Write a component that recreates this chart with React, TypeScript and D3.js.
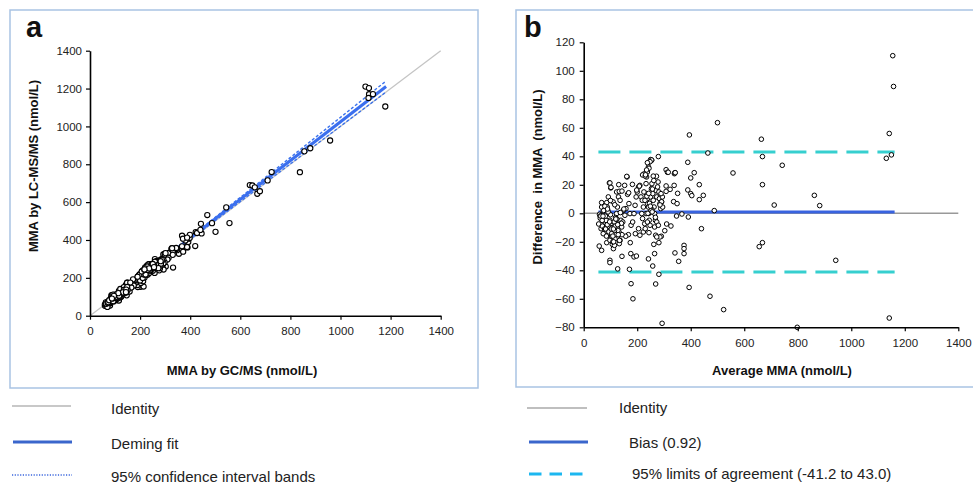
import { useRef, useEffect } from 'react'
import * as d3 from 'd3'

// Bland-Altman values (average, difference LC-MS/MS minus GC/MS)
const avgMMA = [
  1155, 1158, 1142, 1150, 1131, 1142, 500, 395, 464, 664, 668, 668, 742, 558, 712, 862, 882, 488, 656, 668,
  942, 440, 394, 472, 523, 798, 293, 281, 269, 177, 184, 171, 127, 143, 98, 98, 67, 86, 174, 176,
  188, 197, 242, 258, 265, 269, 281, 341, 355, 375, 375, 375, 391, 347, 367, 400, 404, 389, 389, 413,
  400, 432, 432, 447, 279, 308, 313, 308, 308, 323, 338, 339, 341, 336, 349, 351, 310, 326, 303, 290,
  285, 273,
  56, 59, 61, 67, 67, 73, 76, 78, 80, 83, 86, 88, 92, 96, 101, 95, 98, 102, 105, 107,
  107, 111, 113, 117, 121, 123, 126, 130, 123, 133, 136, 139, 142, 132, 126, 133, 115, 98, 90, 86,
  71, 65, 73, 146, 148, 154, 158, 162, 153, 164, 169, 173, 177, 183, 188, 192, 196, 200, 205, 210,
  214, 219, 223, 193, 210, 223, 228, 205, 167, 157, 143, 98, 102, 131, 143, 161, 182, 168, 208, 198,
  233, 235, 238, 242, 245, 250, 254, 235, 238, 239, 242, 243, 245, 248, 244, 250, 253, 255, 258, 260,
  263, 265, 268, 265, 271, 273, 276, 278, 281, 283, 285, 288, 291, 294, 289, 295, 272, 238, 230, 233,
  248, 255, 229, 225, 217, 220, 268, 273, 279, 262, 254, 248, 238, 244, 235, 225, 220, 230, 260, 316,
  342, 291, 285, 62, 70, 78, 84, 90, 94, 104, 109, 114, 119, 124, 128, 137, 150, 110, 117, 93, 81, 106, 121,
  58, 64, 69, 75, 82, 88, 94, 100, 105, 112, 118, 124, 129, 136, 141, 72, 79, 85, 91, 97,
  103, 109, 115, 120, 127, 134, 111, 116, 100, 89, 240, 246, 252, 257, 236, 249, 262, 243, 231, 256,
]
const diffMMA = [
  110.6, 89, 56, 41, 38.6, -73.5, 63.6, 55, 42.3, 52, 39.8, 20.1, 33.7, 28.3, 5.8, 12.6, 5.4, 1.9, -23.4, -20.6,
  -33, -10.8, -52, -58.2, -67.6, -80, -77.2, -42.8, -49.6, -49.4, -60, -39.3, -39, -30.2, -33, -34.6, -26, -20.6, -20.6, -28.3,
  -30.6, -30, -32, -37, -28.3, -15.4, -20.6, -27.8, -33.7, -28.3, -22.5, -24.8, -2.6, -1.9, -0.5, 13.8, 12.4, 16.4, 35.8, 28.5,
  24.8, 20.1, 9.6, 12.6, 39.8, 30.6, 28.8, 19.2, 15.4, 16.8, 19.6, 27.8, 28.5, 8.2, 6.8, 14, -7.5, -8.9, -12.2, -16.1,
  -16.6, -16.6,
  -7.5, -0.7, -1.9, 4.4, 7.5, 1.4, -3, -6.1, -9.6, -13.1, 7.5, 4.4, 11.5, 21.3, 17.8, -0.2, -4.9, -8.4, -14.3, -18.2,
  -21.8, -24.8, -17.8, -11.9, -7.3, -0.2, 4.4, 11.5, 15, 15.4, 9.1, -4.9, -9.6, -13.1, -17.8, -21.3, -22.5, -18.9, -15.4, -9.6,
  -4.9, -10.8, -14.3, -6.1, 2.1, -1.4, 3.3, 25.5, 19.6, 13.3, 6.8, -0.2, -8.4, -6.1, -0.2, 5.6, 11.5, 15, 18.5, 19.6,
  11.5, 9.1, 4.4, -14.3, -15.4, -13.1, -7.3, -10.8, -15, -16.1, -15, 21.3, 18.2, 20.1, 15.6, 25.9, 20.3, 14.4, 19.1, 16.3,
  20.8, 25.5, 29, 32.5, 36, 37.7, 37.2, 13.8, 10.3, 6.8, 4.4, -0.2, -4.9, -8.4, -13.6, 11.5, 17.3, 20.8, 13.8, 9.1,
  4.4, -0.2, -4.9, -9.6, 15.9, 11.5, 18.5, 22, 15, 10.3, 6.8, 3.3, 8, 11.5, 13.8, 4.4, 26, -6.1, -10.8, -0.2,
  0.7, 2.6, 9.1, 15, -0.2, -3.7, -2.8, -6.1, -8.4, -21.8, 37.4, 36.2, 35.5, 31.6, 30.4, 27.6, 26.9, 26.1, 26.1, 28.8,
  28.5, 8.1, 5.9, -3.5, -9, -11, -5, 2, -12, -16, -20, -6, -3, -10, -12, 0.5, 3, 8, -18, -9, -2, -10, -4, -23,
  -2, -5, 2, -11, -8, -13, -1, -14, -20, -9, -4, -15, -19, -7, -2, 5, -16, 1, -6, -11,
  -16, -12, -4, -8, -19, -11, 6, 9, 3, 0, 7, 2, 17, 12, 5, 23, 14, 27, 1, 19,
]

// Deming fit and 95% confidence bands
const fitX = [55, 1182]
const fitY = [56, 1211]
const bandX = [55, 250, 500, 800, 1000, 1182]
const bandUpper = [62, 259, 520, 836, 1048, 1240]
const bandLower = [49, 252, 503, 802, 1001, 1182]

const bias = 0.92
const loaLower = -41.2
const loaUpper = 43.0
const agreeRange = [55, 1162]

const ticksA = [0, 200, 400, 600, 800, 1000, 1200, 1400]
const ticksBx = [0, 200, 400, 600, 800, 1000, 1200, 1400]
const ticksBy = [-80, -60, -40, -20, 0, 20, 40, 60, 80, 100, 120]

const legendA = ['Identity', 'Deming fit', '95% confidence interval bands']
const legendB = ['Identity', 'Bias (0.92)', '95% limits of agreement (-41.2 to 43.0)']

const FONT = 'Liberation Sans, Arial, Helvetica, sans-serif'

function App() {
  const ref = useRef<SVGSVGElement>(null)

  useEffect(() => {
    const svg = d3.select(ref.current)
    svg.selectAll('*').remove()

    const pts = avgMMA.map((a, i) => ({ avg: a, diff: diffMMA[i], gc: a - diffMMA[i] / 2, lc: a + diffMMA[i] / 2 }))
    const fmt = d3.format('d')

    // panel frames
    svg.append('rect').attr('x', 10).attr('y', 10).attr('width', 468).attr('height', 378)
      .attr('fill', 'none').attr('stroke', '#a9c3e3').attr('stroke-width', 1.5)
    svg.append('rect').attr('x', 516).attr('y', 10).attr('width', 470).attr('height', 377)
      .attr('fill', 'none').attr('stroke', '#a9c3e3').attr('stroke-width', 1.5)

    svg.append('text').attr('x', 26).attr('y', 37).text('a')
      .style('font', `bold 29px ${FONT}`).attr('fill', '#111')
    svg.append('text').attr('x', 524).attr('y', 37).text('b')
      .style('font', `bold 29px ${FONT}`).attr('fill', '#111')

    // ---------- panel a ----------
    const xa = d3.scaleLinear().domain([0, 1400]).range([90, 440.7])
    const ya = d3.scaleLinear().domain([0, 1400]).range([315.7, 50.7])
    const ga = svg.append('g')

    ga.append('line').attr('x1', xa(0)).attr('y1', ya(0)).attr('x2', xa(1400)).attr('y2', ya(1400))
      .attr('stroke', '#c4c4c4').attr('stroke-width', 1.3)

    const bandLine = d3.line<number>().x((d, i) => xa(bandX[i])).y(d => ya(d)).curve(d3.curveMonotoneX)
    ;[bandUpper, bandLower].forEach(b => {
      ga.append('path').attr('d', bandLine(b)).attr('fill', 'none')
        .attr('stroke', '#3b73ee').attr('stroke-width', 1.4).attr('stroke-dasharray', '3,2')
    })
    ga.append('line').attr('x1', xa(fitX[0])).attr('y1', ya(fitY[0])).attr('x2', xa(fitX[1])).attr('y2', ya(fitY[1]))
      .attr('stroke', '#3b6fee').attr('stroke-width', 3)

    ga.selectAll('circle.pa').data(pts).enter().append('circle')
      .attr('cx', d => xa(d.gc)).attr('cy', d => ya(d.lc)).attr('r', 2.6)
      .attr('fill', '#fff').attr('stroke', '#000').attr('stroke-width', 1.1)

    const axAy = ga.append('g').attr('transform', 'translate(90,0)')
      .call(d3.axisLeft(ya).tickValues(ticksA).tickFormat(fmt).tickSize(4).tickPadding(4).tickSizeOuter(0))
    const axAx = ga.append('g').attr('transform', 'translate(0,315.7)')
      .call(d3.axisBottom(xa).tickValues(ticksA).tickFormat(fmt).tickSize(4).tickPadding(7).tickSizeOuter(0))
    ;[axAy, axAx].forEach(ax => {
      ax.selectAll('path').attr('stroke', '#000').attr('stroke-width', 1.6)
      ax.selectAll('line').attr('stroke', '#000').attr('stroke-width', 1.2)
      ax.selectAll('text').style('font', `11.5px ${FONT}`).attr('fill', '#222')
    })

    ga.append('text').attr('x', 242).attr('y', 375).attr('text-anchor', 'middle')
      .text('MMA by GC/MS (nmol/L)').style('font', `bold 13px ${FONT}`).attr('fill', '#111')
    ga.append('text').attr('transform', 'translate(38,166) rotate(-90)').attr('text-anchor', 'middle')
      .text('MMA by LC-MS/MS (nmol/L)').style('font', `bold 13px ${FONT}`).attr('fill', '#111')

    // ---------- panel b ----------
    const xb = d3.scaleLinear().domain([0, 1400]).range([583.7, 958.3])
    const yb = d3.scaleLinear().domain([-80, 120]).range([327.3, 42.3])
    const gb = svg.append('g')

    gb.append('line').attr('x1', xb(0)).attr('y1', yb(0)).attr('x2', xb(1400)).attr('y2', yb(0))
      .attr('stroke', '#999').attr('stroke-width', 1.4)
    gb.append('line').attr('x1', xb(agreeRange[0])).attr('y1', yb(bias)).attr('x2', xb(agreeRange[1])).attr('y2', yb(bias))
      .attr('stroke', '#3863e0').attr('stroke-width', 3)
    ;[loaUpper, loaLower].forEach(v => {
      gb.append('line').attr('x1', xb(agreeRange[0])).attr('y1', yb(v)).attr('x2', xb(agreeRange[1])).attr('y2', yb(v))
        .attr('stroke', '#36cfcf').attr('stroke-width', 3).attr('stroke-dasharray', '22,9')
    })

    gb.selectAll('circle.pb').data(pts).enter().append('circle')
      .attr('cx', d => xb(d.avg)).attr('cy', d => yb(d.diff)).attr('r', 2.3)
      .attr('fill', '#fff').attr('stroke', '#000').attr('stroke-width', 1)

    const axBy = gb.append('g').attr('transform', 'translate(583.7,0)')
      .call(d3.axisLeft(yb).tickValues(ticksBy).tickFormat(fmt).tickSize(4).tickPadding(5).tickSizeOuter(0))
    const axBx = gb.append('g').attr('transform', 'translate(0,327.3)')
      .call(d3.axisBottom(xb).tickValues(ticksBx).tickFormat(fmt).tickSize(4).tickPadding(8).tickSizeOuter(0))
    ;[axBy, axBx].forEach(ax => {
      ax.selectAll('path').attr('stroke', '#000').attr('stroke-width', 1.6)
      ax.selectAll('line').attr('stroke', '#000').attr('stroke-width', 1.2)
      ax.selectAll('text').style('font', `11.5px ${FONT}`).attr('fill', '#222')
    })

    gb.append('text').attr('x', 782).attr('y', 375).attr('text-anchor', 'middle')
      .text('Average MMA (nmol/L)').style('font', `bold 13px ${FONT}`).attr('fill', '#111')
    gb.append('text').attr('transform', 'translate(542,177) rotate(-90)').attr('text-anchor', 'middle')
      .style('white-space', 'pre')
      .text('Difference  in MMA  (nmol/L)').style('font', `bold 13px ${FONT}`).attr('fill', '#111')

    // ---------- legends ----------
    const lg = svg.append('g')
    const legY = [406, 442, 475]
    lg.append('line').attr('x1', 12).attr('x2', 71).attr('y1', legY[0]).attr('y2', legY[0])
      .attr('stroke', '#c8c8c8').attr('stroke-width', 2)
    lg.append('line').attr('x1', 13).attr('x2', 72).attr('y1', legY[1]).attr('y2', legY[1])
      .attr('stroke', '#3a66cc').attr('stroke-width', 3)
    lg.append('line').attr('x1', 12).attr('x2', 72).attr('y1', legY[2]).attr('y2', legY[2])
      .attr('stroke', '#3a66dd').attr('stroke-width', 1.5).attr('stroke-dasharray', '1.2,1.5')
    const legTA = [414, 449, 482]
    legendA.forEach((t, i) => {
      lg.append('text').attr('x', 111).attr('y', legTA[i]).text(t)
        .style('font', `15px ${FONT}`).attr('fill', '#222')
    })

    const legYB = [408, 442, 474]
    lg.append('line').attr('x1', 527).attr('x2', 587).attr('y1', legYB[0]).attr('y2', legYB[0])
      .attr('stroke', '#aaa').attr('stroke-width', 1.5)
    lg.append('line').attr('x1', 529).attr('x2', 588).attr('y1', legYB[1]).attr('y2', legYB[1])
      .attr('stroke', '#3a66cc').attr('stroke-width', 3)
    lg.append('line').attr('x1', 529).attr('x2', 583).attr('y1', legYB[2]).attr('y2', legYB[2])
      .attr('stroke', '#1cb7f0').attr('stroke-width', 3).attr('stroke-dasharray', '12.5,8')
    const legTBx = [619, 629, 632]
    const legTBy = [413, 448, 479]
    legendB.forEach((t, i) => {
      lg.append('text').attr('x', legTBx[i]).attr('y', legTBy[i]).text(t)
        .style('font', `15px ${FONT}`).attr('fill', '#222')
    })
  }, [])

  return (
    <svg ref={ref} width={973} height={484}
      style={{ position: 'absolute', left: 0, top: 0, background: '#fff' }} />
  )
}

export default App
